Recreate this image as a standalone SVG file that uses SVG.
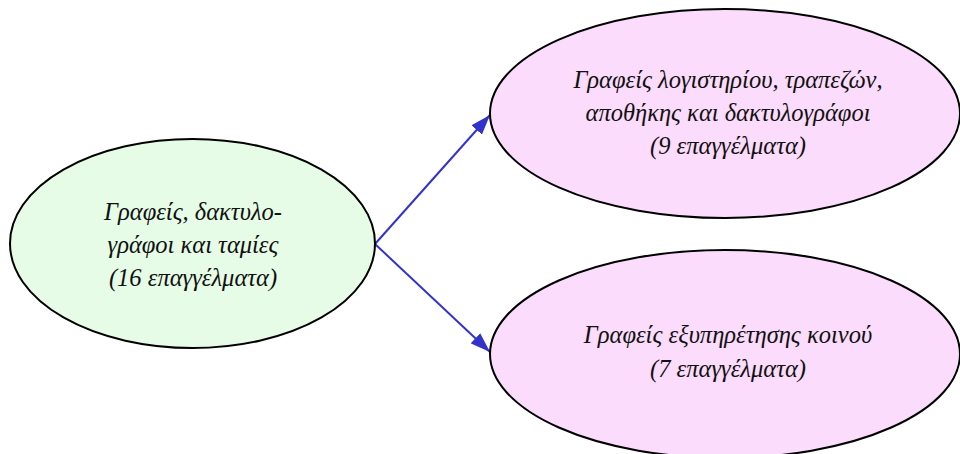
<svg xmlns="http://www.w3.org/2000/svg" width="960" height="454" viewBox="0 0 960 454">
<defs>
<style>
.n{stroke:#000;stroke-width:2}
.g{fill:#e6fce6}
.p{fill:#fcdcfc}
.t{font-family:"Liberation Serif","DejaVu Serif",serif;font-style:italic;font-size:24.5px;fill:#111;text-anchor:middle}
</style>
<marker id="a" viewBox="0 0 20 14" markerWidth="20" markerHeight="14" refX="20" refY="7" orient="auto" markerUnits="userSpaceOnUse">
<path d="M0,0 L20,7 L0,14 Z" fill="#3333cc"/>
</marker>
</defs>
<rect width="960" height="454" fill="#fff"/>
<g id="connectors">
<line x1="375" y1="244" x2="490" y2="115" stroke="#3333cc" stroke-width="2" marker-end="url(#a)"/>
<line x1="375" y1="244" x2="490" y2="352" stroke="#3333cc" stroke-width="2" marker-end="url(#a)"/>
</g>
<g id="node-left">
<ellipse class="n g" cx="192.5" cy="243.5" rx="182.5" ry="104.5"/>
<text class="t" x="193" y="220">Γραφείς, δακτυλο-</text>
<text class="t" x="193" y="253">γράφοι και ταμίες</text>
<text class="t" x="193" y="286">(16 επαγγέλματα)</text>
</g>
<g id="node-top">
<ellipse class="n p" cx="725" cy="113.5" rx="235" ry="104.5"/>
<text class="t" x="728" y="88">Γραφείς λογιστηρίου, τραπεζών,</text>
<text class="t" x="728" y="121">αποθήκης και δακτυλογράφοι</text>
<text class="t" x="728" y="154">(9 επαγγέλματα)</text>
</g>
<g id="node-bottom">
<ellipse class="n p" cx="725" cy="354" rx="235" ry="104"/>
<text class="t" x="728" y="343">Γραφείς εξυπηρέτησης κοινού</text>
<text class="t" x="728" y="377">(7 επαγγέλματα)</text>
</g>
</svg>
